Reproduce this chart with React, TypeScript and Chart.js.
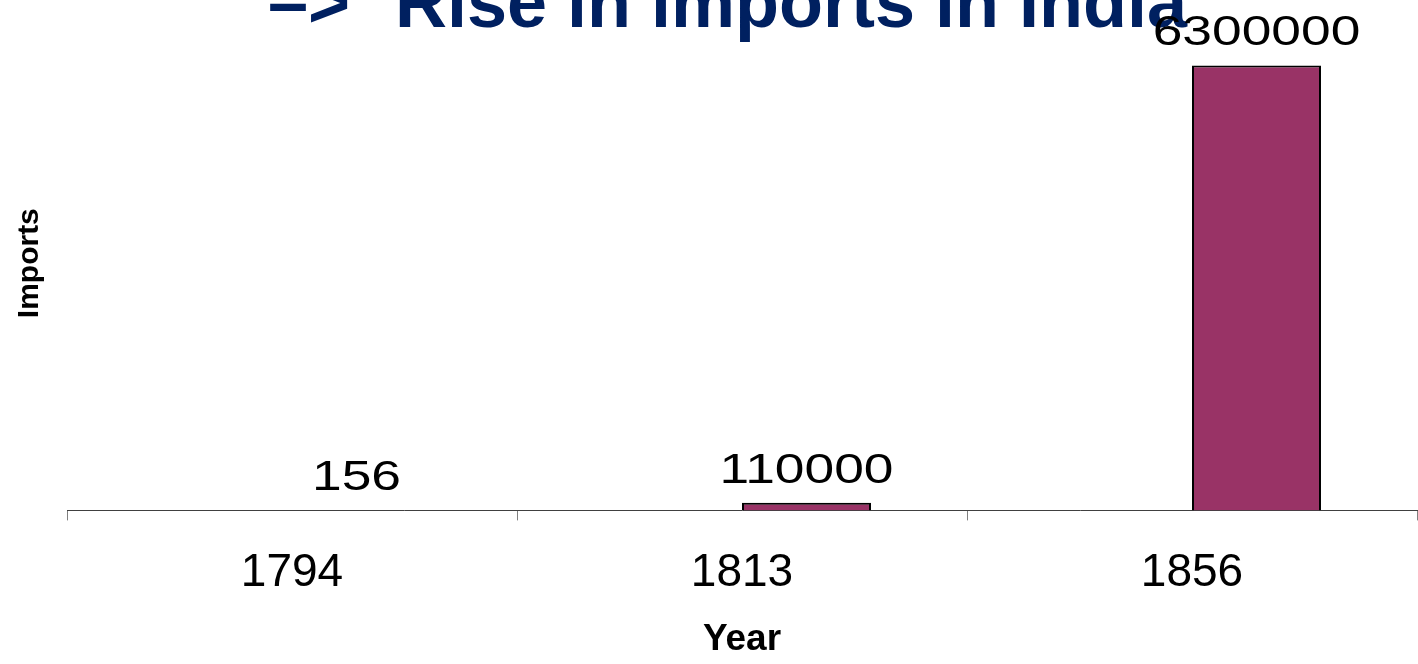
import React, { useEffect, useRef } from "react";
import { Chart, registerables } from "chart.js";

Chart.register(...registerables);

// ---- data ----
const years: string[] = ["1794", "1813", "1856"];
const importsValues: number[] = [156, 110000, 6300000];
const spacerValues: (number | null)[] = [null, null, null];
const valueLabels: string[] = ["156", "110000", "6300000"];
const titleArrow = "\u2013>";
const titleText = "Rise in imports in India";
const yTitle = "Imports";
const xTitle = "Year";
const yMax = 7000000;

const FONT = '"Liberation Sans", Arial, Helvetica, sans-serif';

const titlePlugin = {
  id: "clippedTitle",
  beforeDatasetsDraw(chart: any) {
    const ctx = chart.ctx as CanvasRenderingContext2D;
    ctx.save();
    ctx.font = `bold 72px ${FONT}`;
    ctx.fillStyle = "#002060";
    ctx.textAlign = "left";
    ctx.textBaseline = "alphabetic";
    ctx.fillText(titleArrow, 268, 27);
    ctx.fillText(titleText, 395, 27);
    ctx.restore();
  },
};

const valueLabelPlugin = {
  id: "valueLabels",
  afterDatasetsDraw(chart: any) {
    const ctx = chart.ctx as CanvasRenderingContext2D;
    const meta = chart.getDatasetMeta(1);
    meta.data.forEach((bar: any, i: number) => {
      ctx.save();
      ctx.font = `42px ${FONT}`;
      ctx.fillStyle = "#000000";
      ctx.textAlign = "center";
      ctx.textBaseline = "alphabetic";
      ctx.translate(bar.x, bar.y - 20);
      ctx.scale(1.27, 1);
      ctx.fillText(valueLabels[i], 0, 0);
      ctx.restore();
    });
  },
};

export default function App() {
  const canvasRef = useRef<HTMLCanvasElement | null>(null);

  useEffect(() => {
    if (!canvasRef.current) return;
    const chart = new Chart(canvasRef.current, {
      type: "bar",
      data: {
        labels: years,
        datasets: [
          {
            label: "",
            data: spacerValues,
            backgroundColor: "#3366CC",
            borderWidth: 0,
          },
          {
            label: "Imports",
            data: importsValues,
            backgroundColor: "#993366",
            borderColor: "#000000",
            borderWidth: 2,
          },
        ],
      },
      options: {
        responsive: false,
        animation: false,
        devicePixelRatio: 1,
        categoryPercentage: 0.5733,
        barPercentage: 1,
        layout: { padding: { top: 16, right: 1, left: 6, bottom: 0 } },
        plugins: {
          legend: { display: false },
          tooltip: { enabled: false },
          title: { display: false },
        },
        scales: {
          x: {
            grid: {
              display: true,
              drawOnChartArea: false,
              drawTicks: true,
              tickLength: 10,
              color: "#808080",
              offset: true,
            },
            border: { display: true, color: "#404040", width: 1 },
            ticks: {
              color: "#000000",
              font: { family: FONT, size: 46 },
              padding: 25,
              maxRotation: 0,
            },
            title: {
              display: true,
              text: xTitle,
              color: "#000000",
              font: { family: FONT, size: 37, weight: "bold" },
              padding: { top: -8, bottom: 2 },
            },
          },
          y: {
            min: 0,
            max: yMax,
            grid: { display: false, drawTicks: false },
            border: { display: false },
            ticks: { display: false },
            title: {
              display: true,
              text: yTitle,
              color: "#000000",
              font: { family: FONT, size: 30, weight: "bold" },
              padding: { top: 6, bottom: 19 },
            },
          },
        },
      },
      plugins: [titlePlugin, valueLabelPlugin],
    });
    return () => chart.destroy();
  }, []);

  return (
    <canvas
      ref={canvasRef}
      width={1418}
      height={664}
      style={{ position: "absolute", left: 0, top: 0, width: 1418, height: 664 }}
    />
  );
}
